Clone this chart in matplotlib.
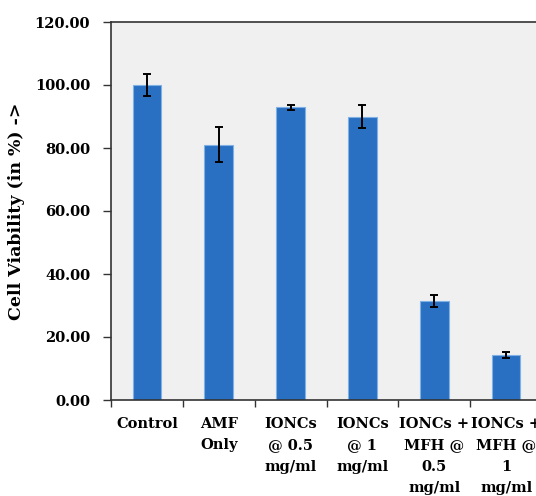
import matplotlib
matplotlib.use("Agg")
import matplotlib.pyplot as plt
import numpy as np

categories = ["Control", "AMF\nOnly", "IONCs\n@ 0.5\nmg/ml", "IONCs\n@ 1\nmg/ml",
              "IONCs +\nMFH @\n0.5\nmg/ml", "IONCs +\nMFH @\n1\nmg/ml"]
values = [100.0, 81.1, 92.9, 90.0, 31.3, 14.2]
errors = [3.5, 5.7, 0.8, 3.5, 1.9, 1.0]
yticks = [0, 20, 40, 60, 80, 100, 120]

plt.rcParams['font.family'] = ['DejaVu Serif']
plt.rcParams['font.weight'] = 'bold'

fig = plt.figure(figsize=(5.36, 4.96), dpi=100)
ax = fig.add_axes([111/536, 1-400/496, 431/536, 378/496])
ax.set_facecolor('#f0f0f0')

x = np.arange(len(categories))
ax.bar(x, values, width=0.4, color='#2a70c2', edgecolor='#7fb0e6', linewidth=0.8, zorder=2)
ax.errorbar(x, values, yerr=errors, fmt='none', ecolor='black', elinewidth=1.4,
            capsize=3, capthick=1.4, zorder=3)

ax.set_xlim(-0.5, len(categories) - 0.5)
ax.set_ylim(0, 120)
ax.set_yticks(yticks)
ax.set_yticklabels([f"{v:.2f}" for v in yticks], fontsize=10.5, fontweight='bold')
ax.set_xticks(x)
ax.set_xticklabels(categories, fontsize=10.5, fontweight='bold', linespacing=1.68)
ax.set_xticks(np.arange(len(categories) + 1) - 0.5, minor=True)
ax.tick_params(axis='x', which='major', length=0, pad=12)
ax.tick_params(axis='x', which='minor', length=5, width=1, direction='out', color='#333333')
ax.tick_params(axis='y', length=6, width=1, direction='out', color='#333333', pad=9)

for s in ['left', 'bottom', 'top']:
    ax.spines[s].set_color('#333333')
    ax.spines[s].set_linewidth(1.2)
ax.spines['right'].set_visible(False)

ax.set_ylabel("Cell Viability (in %) ->", fontsize=12.5, fontweight='bold', labelpad=7)

fig.savefig("out.png", dpi=100)
